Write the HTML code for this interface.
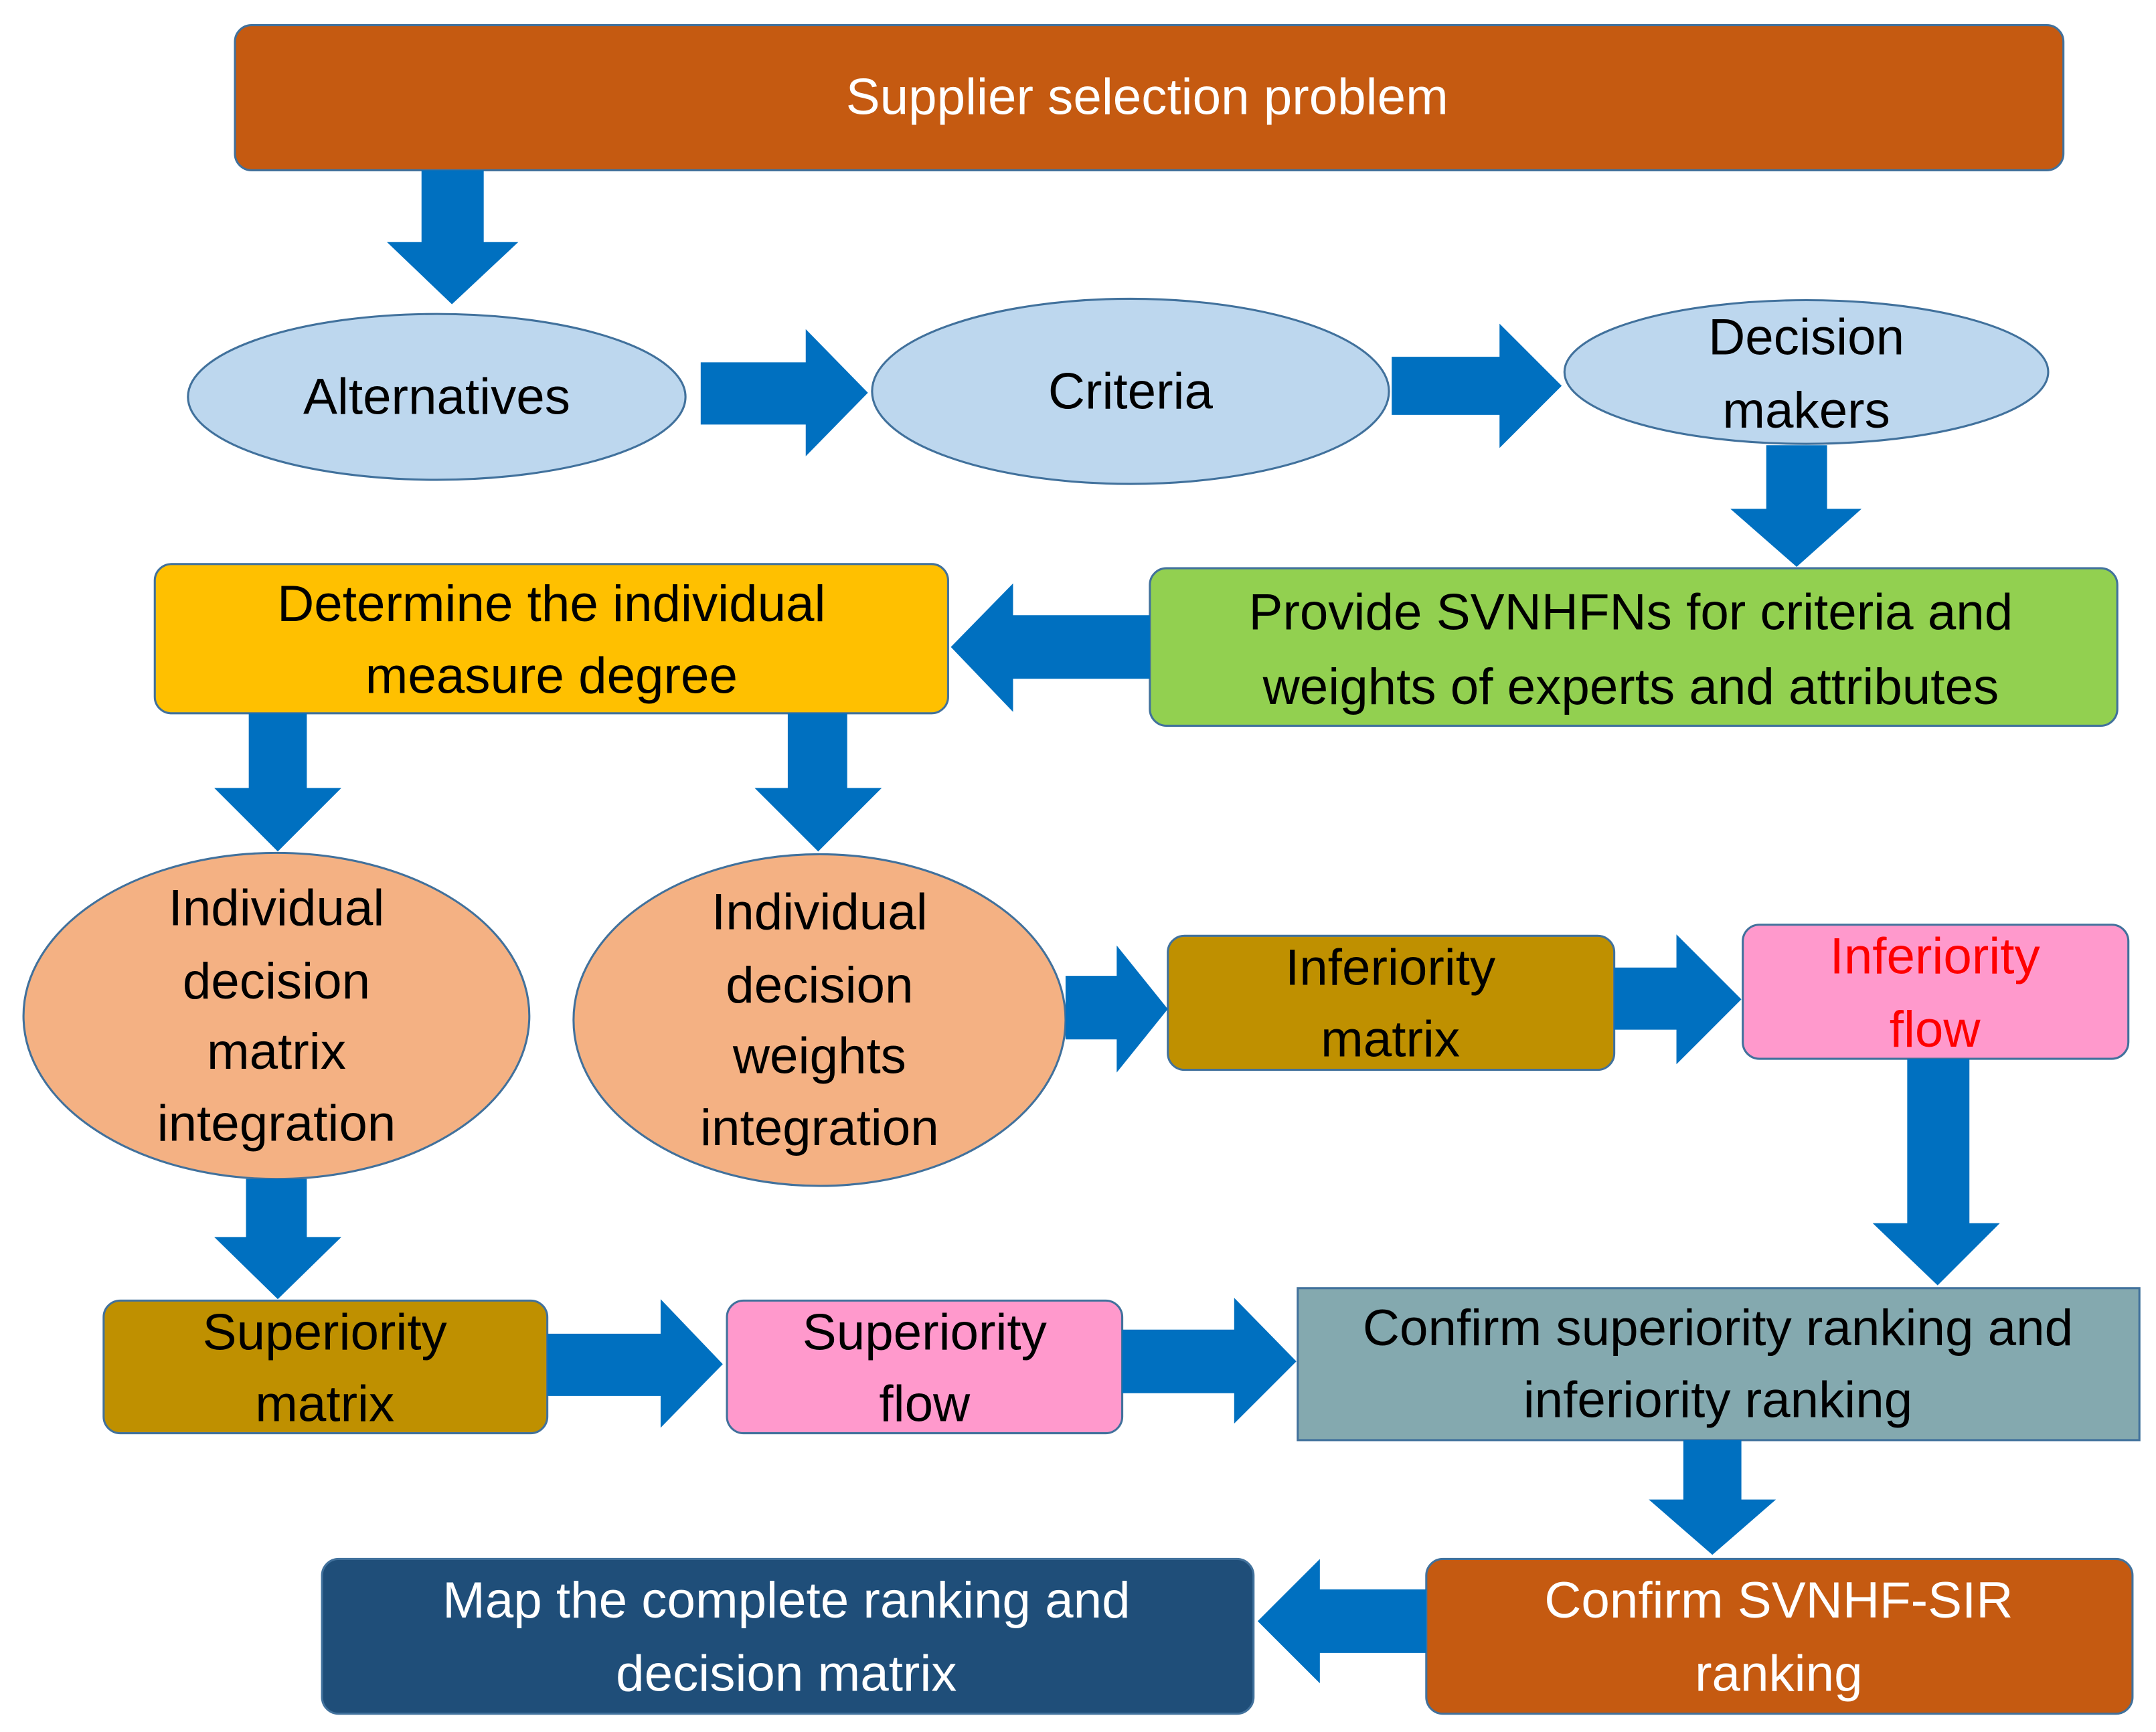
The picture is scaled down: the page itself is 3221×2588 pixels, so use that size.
<!DOCTYPE html>
<html><head><meta charset="utf-8"><style>
html,body{margin:0;padding:0;background:#fff;}
svg{display:block;}
text{font-family:"Liberation Sans",sans-serif;font-size:37px;text-anchor:middle;dominant-baseline:central;}
</style></head><body>
<svg width="3221" height="2588" viewBox="0 0 1560 1253" xmlns="http://www.w3.org/2000/svg">
<g stroke="#41719C" stroke-width="1.5">
<rect x="170" y="18" width="1323" height="105" rx="12" fill="#C55A11"/>
<ellipse cx="316" cy="287" rx="180" ry="60" fill="#BDD7EE"/>
<ellipse cx="818" cy="283" rx="187" ry="67" fill="#BDD7EE"/>
<ellipse cx="1307" cy="269" rx="175" ry="52" fill="#BDD7EE"/>
<rect x="832" y="411" width="700" height="114" rx="12" fill="#92D050"/>
<rect x="112" y="408" width="574" height="108" rx="12" fill="#FFC000"/>
<ellipse cx="200" cy="735" rx="183" ry="118" fill="#F4B183"/>
<ellipse cx="593" cy="738" rx="178" ry="120" fill="#F4B183"/>
<rect x="845" y="677" width="323" height="97" rx="12" fill="#BF9000"/>
<rect x="1261" y="669" width="279" height="97" rx="12" fill="#FF99CC"/>
<rect x="75" y="941" width="321" height="96" rx="12" fill="#BF9000"/>
<rect x="526" y="941" width="286" height="96" rx="12" fill="#FF99CC"/>
<rect x="939" y="932" width="609" height="110" fill="#84A9AF"/>
<rect x="1032" y="1128" width="511" height="112" rx="12" fill="#C55A11"/>
<rect x="233" y="1128" width="674" height="112" rx="12" fill="#1F4E79"/>
</g>
<g fill="#0070C0">
<polygon points="305,123 350,123 350,175 375,175 327,220 280,175 305,175"/>
<polygon points="507,262 583,262 583,238 628,284 583,330 583,307 507,307"/>
<polygon points="1007,258 1085,258 1085,234 1130,279 1085,324 1085,300 1007,300"/>
<polygon points="1278,322 1322,322 1322,368 1347,368 1300,410 1252,368 1278,368"/>
<polygon points="832,445 733,445 733,422 688,468 733,515 733,491 832,491"/>
<polygon points="180,516 222,516 222,570 247,570 201,616 155,570 180,570"/>
<polygon points="570,516 613,516 613,570 638,570 592,616 546,570 570,570"/>
<polygon points="771,706 808,706 808,684 845,730 808,776 808,752 771,752"/>
<polygon points="1168,700 1213,700 1213,676 1260,723 1213,770 1213,745 1168,745"/>
<polygon points="1380,766 1425,766 1425,885 1447,885 1402,930 1355,885 1380,885"/>
<polygon points="178,853 222,853 222,895 247,895 201,940 155,895 178,895"/>
<polygon points="396,965 478,965 478,940 523,987 478,1033 478,1010 396,1010"/>
<polygon points="812,962 893,962 893,939 938,985 893,1030 893,1008 812,1008"/>
<polygon points="1218,1042 1260,1042 1260,1085 1285,1085 1239,1125 1193,1085 1218,1085"/>
<polygon points="1032,1150 955,1150 955,1128 910,1173 955,1218 955,1196 1032,1196"/>
</g>
<g fill="#000">
<text x="830" y="70" fill="#fff">Supplier selection problem</text>
<text x="316" y="287">Alternatives</text>
<text x="818" y="283">Criteria</text>
<text x="1307" y="244">Decision</text>
<text x="1307" y="297">makers</text>
<text x="1180" y="443">Provide SVNHFNs for criteria and</text>
<text x="1180" y="497">weights of experts and attributes</text>
<text x="399" y="437">Determine the individual</text>
<text x="399" y="489">measure degree</text>
<text x="200" y="657">Individual</text>
<text x="200" y="710">decision</text>
<text x="200" y="761">matrix</text>
<text x="200" y="813">integration</text>
<text x="593" y="660">Individual</text>
<text x="593" y="713">decision</text>
<text x="593" y="764">weights</text>
<text x="593" y="816">integration</text>
<text x="1006" y="700">Inferiority</text>
<text x="1006" y="752">matrix</text>
<text x="1400" y="692" fill="#FF0000">Inferiority</text>
<text x="1400" y="745" fill="#FF0000">flow</text>
<text x="235" y="964">Superiority</text>
<text x="235" y="1016">matrix</text>
<text x="669" y="964">Superiority</text>
<text x="669" y="1016">flow</text>
<text x="1243" y="961">Confirm superiority ranking and</text>
<text x="1243" y="1013">inferiority ranking</text>
<text x="1287" y="1158" fill="#fff">Confirm SVNHF-SIR</text>
<text x="1287" y="1211" fill="#fff">ranking</text>
<text x="569" y="1158" fill="#fff">Map the complete ranking and</text>
<text x="569" y="1211" fill="#fff">decision matrix</text>
</g>
</svg>
</body></html>
